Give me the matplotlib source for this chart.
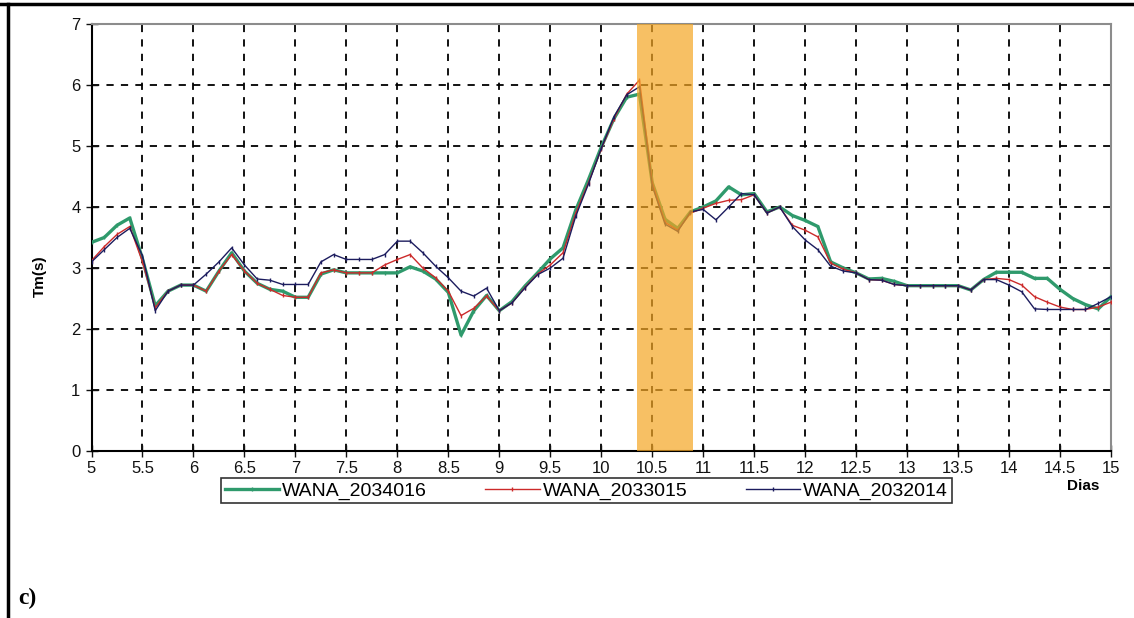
import matplotlib
matplotlib.use("Agg")
import matplotlib.pyplot as plt
from matplotlib.lines import Line2D
import numpy as np

plt.rcParams['font.family'] = ['Liberation Sans', 'DejaVu Sans']

days = [5.0, 5.125, 5.25, 5.375, 5.5, 5.625, 5.75, 5.875, 6.0, 6.125, 6.25, 6.375,
        6.5, 6.625, 6.75, 6.875, 7.0, 7.125, 7.25, 7.375, 7.5, 7.625, 7.75, 7.875,
        8.0, 8.125, 8.25, 8.375, 8.5, 8.625, 8.75, 8.875, 9.0, 9.125, 9.25, 9.375,
        9.5, 9.625, 9.75, 9.875, 10.0, 10.125, 10.25, 10.375, 10.5, 10.625, 10.75,
        10.875, 11.0, 11.125, 11.25, 11.375, 11.5, 11.625, 11.75, 11.875, 12.0,
        12.125, 12.25, 12.375, 12.5, 12.625, 12.75, 12.875, 13.0, 13.125, 13.25,
        13.375, 13.5, 13.625, 13.75, 13.875, 14.0, 14.125, 14.25, 14.375, 14.5,
        14.625, 14.75, 14.875, 15.0]

wana_2034016 = [3.42, 3.5, 3.7, 3.82, 3.15, 2.38, 2.62, 2.72, 2.72, 2.62, 2.95, 3.25,
                2.95, 2.75, 2.65, 2.62, 2.52, 2.52, 2.9, 2.97, 2.92, 2.92, 2.92, 2.92,
                2.92, 3.02, 2.95, 2.82, 2.6, 1.9, 2.3, 2.55, 2.3, 2.45, 2.7, 2.92,
                3.15, 3.33, 3.95, 4.45, 4.98, 5.45, 5.8, 5.85, 4.4, 3.8, 3.65,
                3.92, 4.0, 4.1, 4.33, 4.2, 4.22, 3.92, 4.0, 3.86, 3.78,
                3.68, 3.1, 3.0, 2.92, 2.82, 2.83, 2.78, 2.71, 2.71, 2.71,
                2.71, 2.71, 2.64, 2.81, 2.93, 2.93, 2.93, 2.83, 2.83, 2.65,
                2.5, 2.4, 2.33, 2.53]

wana_2033015 = [3.12, 3.35, 3.55, 3.68, 3.1, 2.35, 2.62, 2.72, 2.72, 2.62, 2.95, 3.22,
                2.95, 2.75, 2.65, 2.55, 2.52, 2.52, 2.92, 2.97, 2.92, 2.92, 2.92, 3.05,
                3.14, 3.22, 3.0, 2.84, 2.62, 2.22, 2.34, 2.54, 2.3, 2.43, 2.68, 2.9,
                3.05, 3.25, 3.9, 4.4, 4.95, 5.45, 5.85, 6.08, 4.4, 3.75, 3.62,
                3.9, 3.98, 4.06, 4.11, 4.12, 4.2, 3.9, 4.0, 3.7, 3.62,
                3.51, 3.08, 2.98, 2.92, 2.81, 2.8, 2.73, 2.71, 2.71, 2.71,
                2.71, 2.71, 2.64, 2.81, 2.83, 2.81, 2.72, 2.53, 2.44, 2.36,
                2.32, 2.32, 2.36, 2.44]

wana_2032014 = [3.1, 3.3, 3.5, 3.65, 3.2, 2.3, 2.62, 2.72, 2.72, 2.9, 3.1, 3.33,
                3.05, 2.82, 2.8, 2.73, 2.73, 2.73, 3.1, 3.22, 3.14, 3.14, 3.14, 3.22,
                3.44, 3.44, 3.25, 3.03, 2.84, 2.62, 2.54, 2.67, 2.3, 2.43, 2.67, 2.89,
                3.0, 3.16, 3.85, 4.38, 4.96, 5.48, 5.84, 5.97, 4.35, 3.72, 3.6,
                3.92, 3.96, 3.79, 4.0, 4.22, 4.2, 3.9, 4.0, 3.68, 3.46,
                3.3, 3.03, 2.95, 2.92, 2.81, 2.8, 2.73, 2.71, 2.71, 2.71,
                2.71, 2.71, 2.64, 2.81, 2.81, 2.72, 2.61, 2.33, 2.32, 2.32,
                2.32, 2.32, 2.42, 2.53]

series_names = ['WANA_2034016', 'WANA_2033015', 'WANA_2032014']
band = [10.35, 10.9]
x_ticks = [5, 5.5, 6, 6.5, 7, 7.5, 8, 8.5, 9, 9.5, 10, 10.5, 11, 11.5, 12, 12.5,
           13, 13.5, 14, 14.5, 15]
x_tick_labels = ['5', '5.5', '6', '6.5', '7', '7.5', '8', '8.5', '9', '9.5', '10',
                 '10.5', '11', '11.5', '12', '12.5', '13', '13.5', '14', '14.5', '15']
y_ticks = [0, 1, 2, 3, 4, 5, 6, 7]

fig = plt.figure(figsize=(11.34, 6.18), dpi=100)
ax = fig.add_axes([0.0807, 0.2702, 0.899, 0.691])

ax.plot(days, wana_2034016, color='#2f9a6c', lw=2.4, marker='|', ms=3, label=series_names[0], zorder=3)
ax.plot(days, wana_2033015, color='#cc2a2a', lw=1.0, marker='|', ms=3, label=series_names[1], zorder=4)
ax.plot(days, wana_2032014, color='#1c1c5e', lw=1.0, marker='|', ms=3, label=series_names[2], zorder=5)

ax.axvspan(band[0], band[1], color='#f5a623', alpha=0.7, lw=0, zorder=6)

ax.set_xlim(5, 15)
ax.set_ylim(0, 7)
ax.set_xticks(x_ticks)
ax.set_xticklabels(x_tick_labels)
ax.set_yticks(y_ticks)
ax.tick_params(axis='both', direction='inout', length=8, width=1, labelsize=12, colors='#111111')
ax.tick_params(axis='x', pad=3)
ax.tick_params(axis='y', pad=4)
ax.grid(True, color='black', linestyle=(0, (4, 4)), lw=1.3, zorder=1)
ax.set_axisbelow(True)

for s in ['top', 'right']:
    ax.spines[s].set_color('#8c8c8c')
    ax.spines[s].set_linewidth(1.5)
for s in ['left', 'bottom']:
    ax.spines[s].set_color('black')
    ax.spines[s].set_linewidth(1.5)

ax.set_ylabel('Tm(s)', fontsize=11, fontweight='bold')
ax.yaxis.set_label_coords(-0.044, 0.41)

leg = ax.legend(loc='center', bbox_to_anchor=(0.517, 0.206), bbox_transform=fig.transFigure,
                ncol=3, frameon=True, fancybox=False, fontsize=14, handlelength=2.8,
                handletextpad=0.15, columnspacing=3.0, borderpad=0.2, edgecolor='black')
leg.get_frame().set_linewidth(1.2)

fig.text(0.955, 0.214, 'Dias', fontsize=11, fontweight='bold', ha='center', va='center')
fig.text(0.016, 0.032, 'c)', fontsize=17, fontweight='bold', ha='left', va='center',
         family=['Liberation Serif', 'DejaVu Serif'])

# Outer frame (top and left border)
fig.add_artist(Line2D([0, 1], [1 - 4 / 618, 1 - 4 / 618], transform=fig.transFigure, color='black', lw=2.5))
fig.add_artist(Line2D([8 / 1134, 8 / 1134], [0, 1 - 4 / 618], transform=fig.transFigure, color='black', lw=2.5))

fig.savefig('out.png', dpi=100)
